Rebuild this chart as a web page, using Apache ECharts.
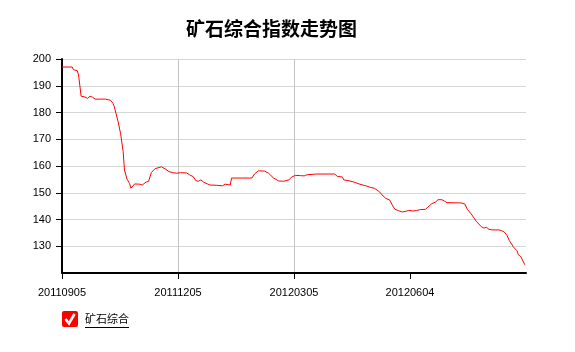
<!DOCTYPE html>
<html>
<head>
<meta charset="utf-8">
<title>矿石综合指数走势图</title>
<script src="https://cdn.jsdelivr.net/npm/echarts@6/dist/echarts.min.js"></script>
<style>
  html, body { margin: 0; padding: 0; background: #fff; }
  #container { width: 575px; height: 352px; }
</style>
</head>
<body>
<div id="container"></div>
<script>
// days counted from 20110905
var dayOffsets = [
    0, 8, 9, 12, 13, 15, 18, 20, 22, 24, 26, 34, 35, 38, 40, 41, 44, 46, 48, 49,
    51, 53, 54, 57, 61, 63, 66, 68, 70, 73, 74, 78, 81, 84, 87, 90, 93, 98, 100, 103,
    105, 107, 109, 111, 114, 116, 121, 126, 128, 132, 133, 149, 151, 154, 159, 162, 166, 170, 174, 178,
    180, 183, 187, 190, 192, 197, 200, 214, 216, 220, 221, 225, 229, 233, 234, 239, 242, 245, 249, 251,
    254, 257, 259, 261, 264, 267, 270, 272, 275, 278, 281, 285, 287, 290, 293, 295, 298, 300, 302, 313,
    316, 318, 321, 325, 329, 331, 333, 335, 338, 343, 345, 347, 349, 351, 354, 357, 358, 360, 363
];
var indexValues = [
    197.0, 197.0, 196.0, 195.6, 194.0, 186.1, 185.8, 185.3, 186.1, 185.7, 185.0, 185.0, 185.7, 184.6, 183.4, 182.2, 176.6, 172.0, 165.3, 158.5,
    155.1, 153.5, 151.7, 153.3, 153.2, 152.9, 154.0, 154.3, 157.5, 159.0, 159.7, 159.7, 158.9, 157.9, 157.5, 157.3, 157.5, 157.4, 156.7, 156.0,
    154.5, 154.3, 154.8, 154.0, 153.3, 152.9, 152.8, 152.6, 153.2, 152.9, 155.5, 155.5, 157.0, 158.2, 158.1, 157.3, 155.5, 154.4, 154.3, 154.8,
    155.8, 156.5, 156.4, 156.3, 156.7, 156.9, 157.0, 157.0, 156.1, 155.9, 154.8, 154.5, 154.0, 153.3, 152.6, 152.5, 152.0, 151.7, 150.4, 149.2,
    147.9, 147.3, 145.5, 143.9, 143.3, 142.8, 143.1, 143.4, 143.2, 143.3, 143.7, 143.8, 144.6, 145.9, 146.5, 147.4, 147.4, 146.9, 146.3, 146.2,
    145.8, 143.8, 142.1, 139.3, 137.3, 136.8, 137.1, 136.3, 136.1, 136.1, 135.8, 135.3, 134.1, 132.1, 129.8, 128.3, 126.8, 126.1, 123.1
];
var tickDays = [0, 91, 182, 273];
var tickLabels = ['20110905', '20111205', '20120305', '20120604'];

var seriesData = [];
for (var i = 0; i < dayOffsets.length; i++) {
    seriesData.push([dayOffsets[i], indexValues[i]]);
}

// red box with a white tick, like the legend checkbox
var checkSvg = "<svg xmlns='http://www.w3.org/2000/svg' width='16' height='16'>" +
    "<rect width='16' height='16' rx='2' fill='#ff0000'/>" +
    "<path d='M3.5 8 L7 12.5 L12.5 3' stroke='#ffffff' stroke-width='2.6' fill='none'/></svg>";

var myChart = echarts.init(document.getElementById('container'));
var option = {
    animation: false,
    title: {
        text: '矿石综合指数走势图',
        left: 186,
        top: 19,
        padding: 0,
        textStyle: {
            fontFamily: 'Noto Sans CJK SC',
            fontSize: 19,
            fontWeight: 'bold',
            color: '#000'
        }
    },
    legend: {
        left: 62,
        top: 311,
        padding: 0,
        itemWidth: 16,
        itemHeight: 16,
        icon: 'image://data:image/svg+xml;charset=utf-8,' + encodeURIComponent(checkSvg),
        textStyle: {
            fontFamily: 'Noto Sans CJK SC',
            fontSize: 11,
            color: '#000',
            padding: [0, 0, 0, 2]
        },
        data: ['矿石综合']
    },
    graphic: [{
        type: 'line',
        shape: { x1: 85, y1: 327.5, x2: 129, y2: 327.5 },
        style: { stroke: '#000', lineWidth: 1 }
    }],
    grid: {
        left: 62,
        right: 49,
        top: 59,
        bottom: 79
    },
    xAxis: {
        type: 'value',
        min: 0,
        max: 364,
        interval: 91,
        axisLine: { lineStyle: { color: '#000', width: 2 } },
        axisTick: { length: 6, lineStyle: { color: '#000' }, customValues: tickDays },
        axisLabel: {
            customValues: tickDays,
            margin: 14,
            fontFamily: 'Liberation Sans',
            fontSize: 11,
            color: '#000',
            formatter: function (v) {
                var k = tickDays.indexOf(v);
                return k >= 0 ? tickLabels[k] : '';
            }
        },
        splitLine: {
            show: true,
            showMinLine: false,
            showMaxLine: false,
            lineStyle: { color: '#c4c4c4' }
        }
    },
    yAxis: {
        type: 'value',
        min: 120,
        max: 200,
        interval: 10,
        axisLine: { show: true, lineStyle: { color: '#000', width: 2 } },
        axisTick: { show: true, length: 6, lineStyle: { color: '#000' } },
        axisLabel: {
            showMinLabel: false,
            margin: 11,
            fontFamily: 'Liberation Sans',
            fontSize: 11,
            color: '#000'
        },
        splitLine: { lineStyle: { color: '#d6d6d6' } }
    },
    series: [
        {
            name: '矿石综合',
            type: 'line',
            data: seriesData,
            showSymbol: false,
            symbol: 'none',
            color: '#ff0000',
            lineStyle: { color: '#ff0000', width: 1 }
        }
    ]
};
myChart.setOption(option);
</script>
</body>
</html>
